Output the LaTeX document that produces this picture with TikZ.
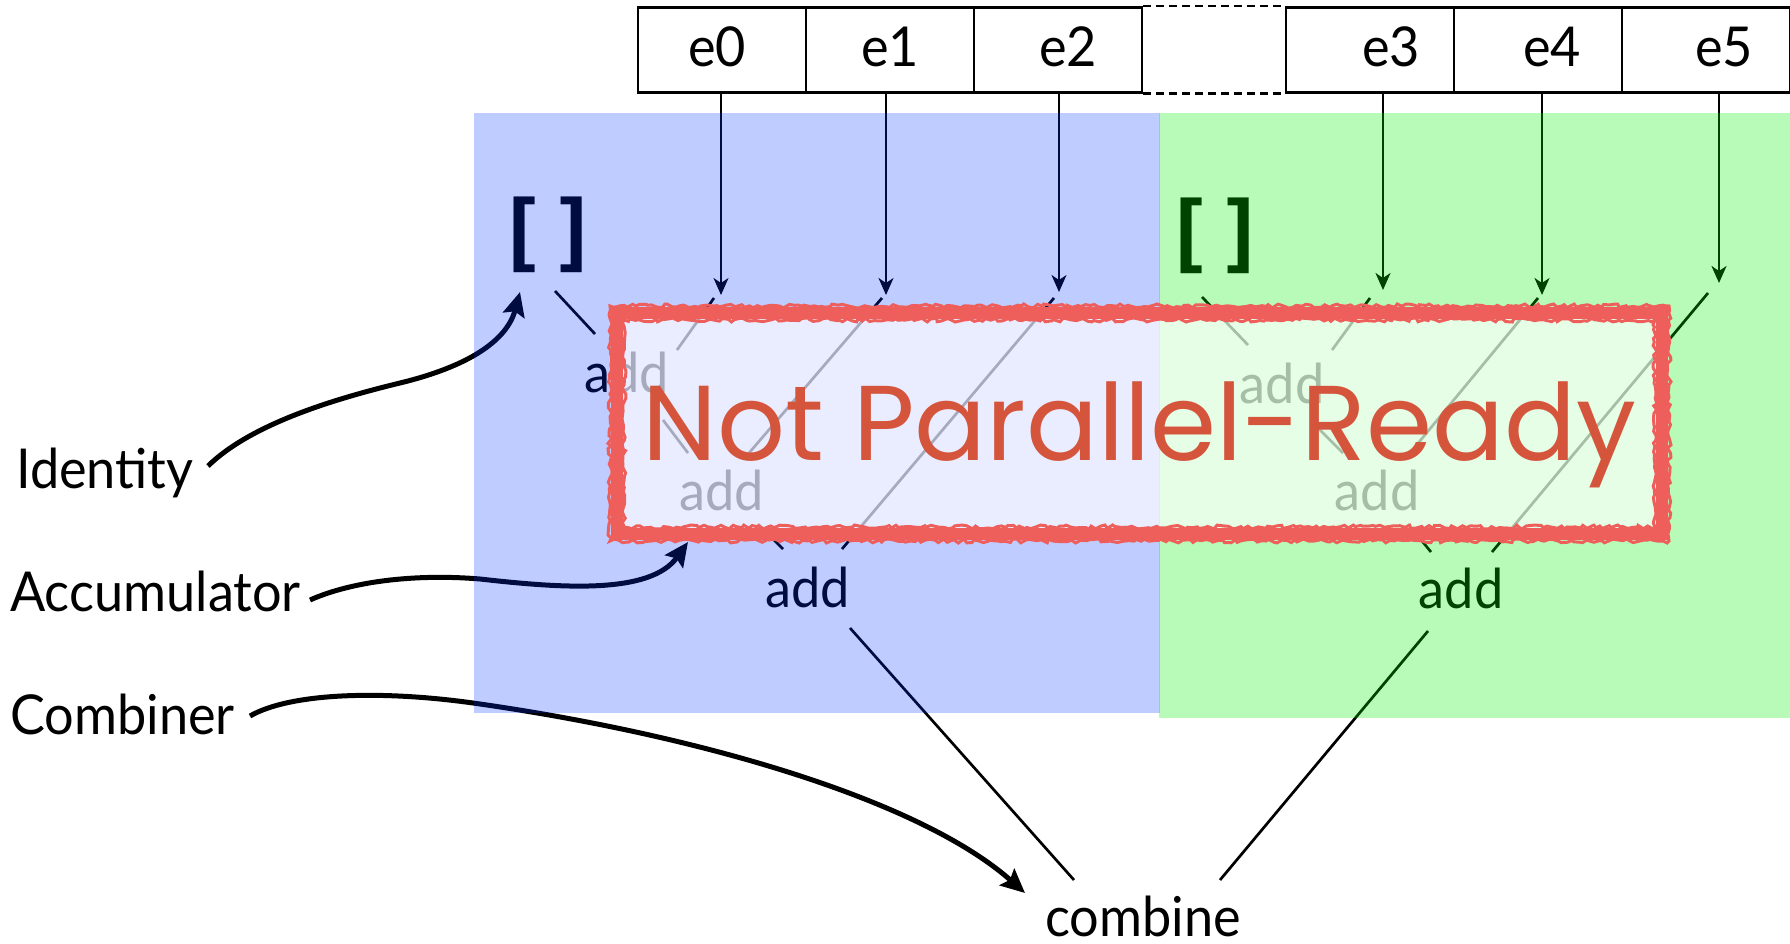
\documentclass[tikz,border=0pt]{standalone}
\usepackage{fontspec}
\setmainfont{Lato}[FakeStretch=0.95]
\newfontfamily\monofont{DejaVu Sans Mono}
\newfontfamily\stampfont{Poppins}
\usetikzlibrary{arrows.meta,decorations.pathmorphing}

\definecolor{regionblue}{RGB}{0,51,255}
\definecolor{regiongreen}{RGB}{0,240,0}
\definecolor{stampred}{RGB}{238,94,90}
\definecolor{stampink}{RGB}{213,85,60}

\begin{document}
\begin{tikzpicture}[x=1pt,y=-1pt,
  txt/.style={font=\fontsize{55}{60}\selectfont, inner sep=0pt, anchor=base},
  lbl/.style={txt, anchor=base west},
  nil/.style={font=\monofont\bfseries\fontsize{85}{90}\selectfont, inner sep=0pt},
  cell/.style={draw, line width=2.5pt, minimum width=168pt, minimum height=85pt, inner sep=0pt},
  feed/.style={line width=2.3pt, -{Stealth[length=17pt, width=15pt, inset=5pt]}},
  link/.style={line width=2.7pt},
  callout/.style={line width=5pt, -{Stealth[length=24pt, width=22pt, inset=4pt]}},
  stampedge/.style={stampred, line width=3pt, decorate,
    decoration={random steps, segment length=4pt, amplitude=2pt}}]
\useasboundingbox (0,0) rectangle (1790,944);

% input sequence
\node[cell] (e0) at (722,50) {};
\node[cell] (e1) at (890,50) {};
\node[cell] (e2) at (1058,50) {};
\node[cell] (e3) at (1370,50) {};
\node[cell] (e4) at (1538,50) {};
\node[cell] (e5) at (1706,50) {};
\node[txt] (l0) at (717,67) {e0};
\node[txt] (l1) at (890,67) {e1};
\node[txt] (l2) at (1068,67) {e2};
\node[txt] (l3) at (1391,67) {e3};
\node[txt] (l4) at (1552,67) {e4};
\node[txt] (l5) at (1724,67) {e5};
\draw[line width=2.5pt, dash pattern=on 8pt off 5pt]
  (e2.north east) -- (e3.north west) (e2.south east) -- (e3.south west);

% arrow tips and the starts of the links below them
\coordinate (a0) at (721,295);  \coordinate (s0) at (714,298);
\coordinate (a1) at (886,295);  \coordinate (s1) at (882,298);
\coordinate (a2) at (1059,292); \coordinate (s2) at (1054,298);
\coordinate (a3) at (1383,290); \coordinate (s3) at (1370,298);
\coordinate (a4) at (1542,295); \coordinate (s4) at (1538,298);
\coordinate (a5) at (1719,283); \coordinate (s5) at (1708,293);
\foreach \i in {0,...,5} \draw[feed] (e\i.south -| a\i) -- (a\i);

% identities
\node[nil] (nilL) at (548,235) {[]};
\node[nil] (nilR) at (1215,236) {[]};

% accumulating adds
\node[txt] (add1) at (627,392) {add};
\node[txt] (add2) at (722,510) {add};
\node[txt] (add3) at (808,607) {add};
\node[txt] (add4) at (1282,403) {add};
\node[txt] (add5) at (1377,510) {add};
\node[txt] (add6) at (1461,608) {add};
\node[txt] (comb) at (1143,936) {combine};

\draw[link] ([shift={(7,56)}]nilL.center) -- ([shift={(-32,-58)}]add1.base);
\draw[link] (s0) -- ([shift={(50,-42)}]add1.base);
\draw[link] ([shift={(36,28)}]add1.base) -- ([shift={(-34,-57)}]add2.base);
\draw[link] (s1) -- ([shift={(27,-57)}]add2.base);
\draw[link] ([shift={(36,14)}]add2.base) -- ([shift={(-25,-58)}]add3.base);
\draw[link] (s2) -- ([shift={(34,-58)}]add3.base);
\draw[link] ([shift={(42,21)}]add3.base) -- ([shift={(-69,-56)}]comb.base);

\draw[link] ([shift={(-13,61)}]nilR.center) -- ([shift={(-34,-58)}]add4.base);
\draw[link] (s3) -- ([shift={(50,-53)}]add4.base);
\draw[link] ([shift={(36,25)}]add4.base) -- ([shift={(-34,-57)}]add5.base);
\draw[link] (s4) -- ([shift={(33,-57)}]add5.base);
\draw[link] ([shift={(31,14)}]add5.base) -- ([shift={(-30,-56)}]add6.base);
\draw[link] (s5) -- ([shift={(31,-56)}]add6.base);
\draw[link] ([shift={(-33,23)}]add6.base) -- ([shift={(77,-56)}]comb.base);

% legend with callouts
\node[lbl] (ident) at (16,488) {Identity};
\node[lbl] (accum) at (10,611) {Accumulator};
\node[lbl] (combr) at (10,734) {Combiner};
\coordinate (identout) at (208,466);
\coordinate (accumout) at (310,600);
\coordinate (combrout) at (250,716);
\draw[callout] (identout) .. controls (250,425) and (330,400) .. (400,383)
  .. controls (470,366) and (507,340) .. ([shift={(-28,57)}]nilL.center);
\draw[callout] (accumout) .. controls (355,580) and (420,574) .. (480,579)
  .. controls (560,588) and (650,595) .. ([shift={(-34,32)}]add2.base);
\draw[callout] (combrout) .. controls (290,693) and (380,690) .. (473,703)
  .. controls (700,735) and (920,800) .. ([shift={(-118,-43)}]comb.base);

% the two partitions
\fill[regionblue, fill opacity=0.25] (474,113) rectangle (1160,713);
\fill[regiongreen, fill opacity=0.28] (1159,113) rectangle (1790,718);

% stamp
\fill[white, fill opacity=0.65] (617,313) rectangle (1662,534);
\draw[stampred, line width=12pt] (617,313) rectangle (1662,534);
\pgfmathsetseed{7}
\draw[stampedge] (610,306) rectangle (1669,541);
\draw[stampedge] (624,320) rectangle (1655,527);
\node[anchor=base, inner sep=0pt, text=stampink, font=\stampfont\fontsize{100}{110}\selectfont]
  (stamp) at (1139.5,460) {\resizebox{993pt}{!}{Not Parallel-Ready}};
\end{tikzpicture}
\end{document}
